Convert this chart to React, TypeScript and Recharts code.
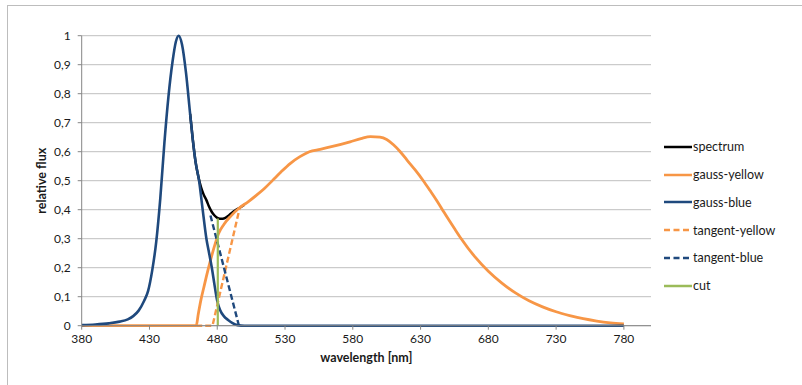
import React from 'react';
import { LineChart, Line, XAxis, YAxis, CartesianGrid } from 'recharts';

// Wavelength grid (nm) and relative flux for each series
const blueNm = [380, 390, 400, 408, 414, 418, 422, 426, 429, 432, 435, 438, 441, 444, 447, 449.5, 451.5, 454, 457, 460, 462, 464, 466.6, 469, 472, 474, 476, 478, 480, 482, 485, 488, 491, 495, 500, 600, 700, 780];
const blueFlux = [0.002, 0.004, 0.008, 0.014, 0.022, 0.033, 0.052, 0.085, 0.12, 0.19, 0.29, 0.44, 0.63, 0.79, 0.91, 0.98, 1.0, 0.97, 0.87, 0.73, 0.64, 0.565, 0.5, 0.41, 0.3, 0.25, 0.2, 0.14, 0.085, 0.055, 0.032, 0.02, 0.01, 0.002, 0, 0, 0, 0];

const yellowNm = [380, 420, 464.5, 466, 468, 470, 472, 475, 478, 481, 485, 490, 496, 503, 509, 515, 521, 527, 534, 541, 548, 556, 565, 578, 586, 593, 600, 605, 610, 615, 620, 626, 632, 637, 642, 646, 650, 655, 660, 670, 680, 690, 700, 710, 720, 730, 740, 750, 760, 770, 780];
const yellowFlux = [0, 0, 0, 0.04, 0.09, 0.13, 0.17, 0.225, 0.275, 0.318, 0.35, 0.378, 0.405, 0.428, 0.45, 0.474, 0.502, 0.53, 0.56, 0.583, 0.6, 0.608, 0.618, 0.634, 0.645, 0.652, 0.65, 0.642, 0.624, 0.6, 0.571, 0.537, 0.5, 0.466, 0.431, 0.401, 0.371, 0.335, 0.3, 0.238, 0.188, 0.147, 0.113, 0.086, 0.065, 0.048, 0.035, 0.024, 0.016, 0.01, 0.006];

const spectrumNm = [460, 462, 464, 466, 468, 470, 472, 474, 476, 478, 480, 482, 484, 486, 488, 490, 492, 494, 496, 500];
const spectrumFlux = [0.73, 0.64, 0.565, 0.515, 0.478, 0.452, 0.433, 0.41, 0.392, 0.38, 0.372, 0.369, 0.369, 0.372, 0.378, 0.386, 0.394, 0.4, 0.405, 0.417];

const tangentYellowNm = [464.5, 476.5, 496.5];
const tangentYellowFlux = [0, 0, 0.405];

const tangentBlueNm = [475, 496];
const tangentBlueFlux = [0.38, 0];

const cutNm = [480.4, 480.4];
const cutFlux = [0, 0.37];

const xTicks = [380, 430, 480, 530, 580, 630, 680, 730, 780];
const yTicks = [0, 0.1, 0.2, 0.3, 0.4, 0.5, 0.6, 0.7, 0.8, 0.9, 1];

const toPoints = (nm: number[], flux: number[]) => nm.map((x, i) => ({ x, y: flux[i] }));

const spectrum = toPoints(spectrumNm, spectrumFlux);
const gaussYellow = toPoints(yellowNm, yellowFlux);
const gaussBlue = toPoints(blueNm, blueFlux);
const tangentYellow = toPoints(tangentYellowNm, tangentYellowFlux);
const tangentBlue = toPoints(tangentBlueNm, tangentBlueFlux);
const cut = toPoints(cutNm, cutFlux);

const ORANGE = '#f79646';
const NAVY = '#1f497d';
const GREEN = '#9bbb59';
const FONT = 'Lato, "Open Sans", sans-serif';
const TEXT = '#1a1a1a';

const legendItems = [
  { name: 'spectrum', color: '#000000', dashed: false },
  { name: 'gauss-yellow', color: ORANGE, dashed: false },
  { name: 'gauss-blue', color: NAVY, dashed: false },
  { name: 'tangent-yellow', color: ORANGE, dashed: true },
  { name: 'tangent-blue', color: NAVY, dashed: true },
  { name: 'cut', color: GREEN, dashed: false },
];

const fmtY = (v: number) => (Math.round(v * 10) / 10).toString().replace('.', ',');

const YTitle = (props: any) => {
  const vb = props.viewBox || {};
  const cx = vb.x + 20;
  const cy = vb.y + vb.height / 2;
  return (
    <text
      x={cx}
      y={cy}
      transform={`rotate(-90, ${cx}, ${cy})`}
      textAnchor="middle"
      dominantBaseline="central"
      fontFamily={FONT}
      fontSize={12.5}
      fontWeight="bold"
      fill={TEXT}
    >
      relative flux
    </text>
  );
};

const XTitle = (props: any) => {
  const vb = props.viewBox || {};
  const cx = vb.x + vb.width / 2;
  return (
    <text
      x={cx}
      y={357}
      textAnchor="middle"
      dominantBaseline="central"
      fontFamily={FONT}
      fontSize={12.5}
      fontWeight="bold"
      fill={TEXT}
    >
      wavelength [nm]
    </text>
  );
};

export default function App() {
  return (
    <div style={{ position: 'absolute', left: 0, top: 0, width: 802, height: 385, background: '#fff', overflow: 'hidden' }}>
      <div
        style={{
          position: 'absolute',
          left: 7,
          top: 5,
          width: 900,
          height: 500,
          borderLeft: '1.5px solid #bdbdbd',
          borderTop: '1.5px solid #bdbdbd',
        }}
      />
      <div style={{ position: 'absolute', left: 0, top: 0 }}>
        <LineChart width={802} height={385} margin={{ top: 35.7, right: 151, bottom: 29.3, left: 21.7 }}>
          <CartesianGrid vertical={false} stroke="#bfbfbf" strokeWidth={1} />
          <XAxis
            dataKey="x"
            type="number"
            domain={[380, 800]}
            ticks={xTicks}
            allowDataOverflow
            height={30}
            stroke="#868686"
            tickSize={4}
            tickMargin={5}
            tick={{ fontFamily: FONT, fontSize: 12, fill: TEXT }}
            tickLine={{ stroke: '#868686' }}
            label={<XTitle />}
          />
          <YAxis
            type="number"
            domain={[0, 1]}
            ticks={yTicks}
            width={60}
            stroke="#868686"
            tickSize={4}
            tickMargin={7}
            tickFormatter={fmtY}
            tick={{ fontFamily: FONT, fontSize: 12, fill: TEXT }}
            tickLine={{ stroke: '#868686' }}
            label={<YTitle />}
          />
          <Line data={spectrum} dataKey="y" type="monotone" stroke="#000" strokeWidth={2.5} dot={false} isAnimationActive={false} />
          <Line data={gaussYellow} dataKey="y" type="monotone" stroke={ORANGE} strokeWidth={2.8} dot={false} isAnimationActive={false} />
          <Line data={gaussBlue} dataKey="y" type="monotone" stroke={NAVY} strokeWidth={2.6} dot={false} isAnimationActive={false} />
          <Line data={tangentYellow} dataKey="y" type="linear" stroke={ORANGE} strokeWidth={2.4} strokeDasharray="6 3" dot={false} isAnimationActive={false} />
          <Line data={tangentBlue} dataKey="y" type="linear" stroke={NAVY} strokeWidth={2.4} strokeDasharray="6 3" dot={false} isAnimationActive={false} />
          <Line data={cut} dataKey="y" type="linear" stroke={GREEN} strokeWidth={2.2} dot={false} isAnimationActive={false} />
        </LineChart>
      </div>
      {legendItems.map((item, i) => (
        <div
          key={item.name}
          style={{
            position: 'absolute',
            left: 664,
            top: 146.7 + i * 27.8 - 9,
            height: 18,
            display: 'flex',
            alignItems: 'center',
            fontFamily: FONT,
            fontSize: 12.5,
            color: TEXT,
            whiteSpace: 'nowrap',
          }}
        >
          <svg width={29} height={6} style={{ display: 'block' }}>
            <line
              x1={0}
              y1={3}
              x2={28}
              y2={3}
              stroke={item.color}
              strokeWidth={2.5}
              strokeDasharray={item.dashed ? '6 3.5' : undefined}
            />
          </svg>
          <span>{item.name}</span>
        </div>
      ))}
    </div>
  );
}
